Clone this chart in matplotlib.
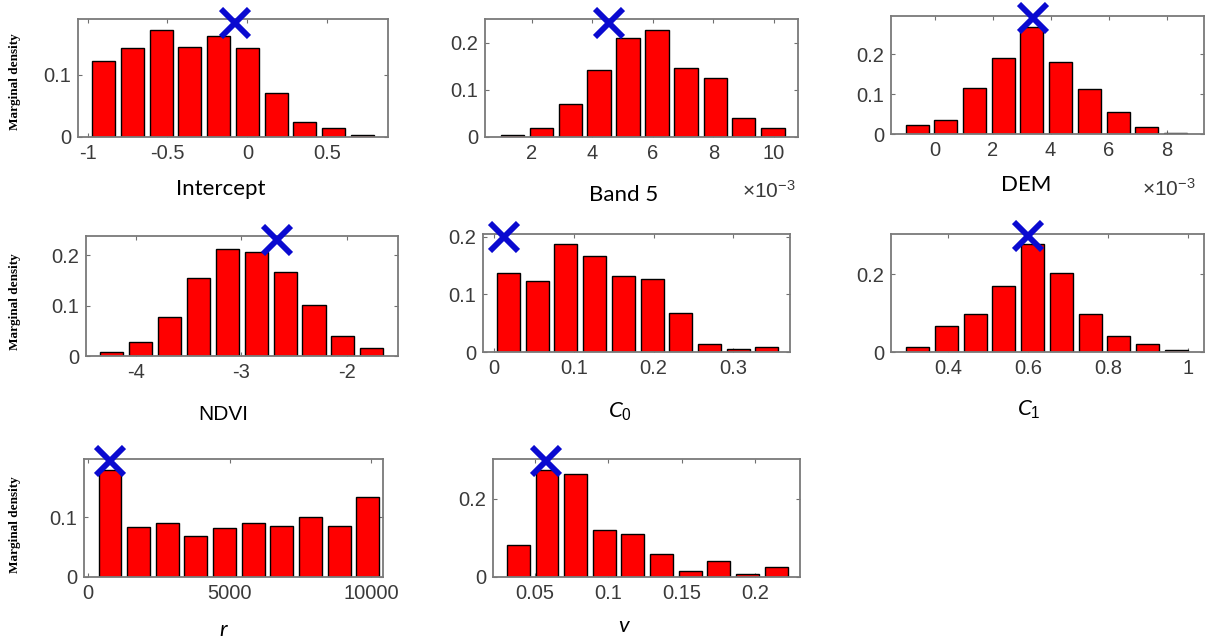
import matplotlib
matplotlib.use("Agg")
import matplotlib.pyplot as plt

plt.rcParams['font.family'] = ['Liberation Sans', 'DejaVu Sans']
plt.rcParams['mathtext.fontset'] = 'custom'
plt.rcParams['mathtext.rm'] = 'Liberation Sans'
plt.rcParams['mathtext.it'] = 'Lato:italic'

# bin centres and marginal densities
intercept_x = [-0.90, -0.72, -0.54, -0.36, -0.18, 0.0, 0.18, 0.36, 0.54, 0.72]
intercept_h = [0.123, 0.143, 0.173, 0.145, 0.162, 0.143, 0.071, 0.024, 0.015, 0.003]

band5_x = [1.35, 2.31, 3.27, 4.22, 5.18, 6.14, 7.10, 8.06, 9.01, 9.97]  # x 1e-3
band5_h = [0.004, 0.019, 0.070, 0.141, 0.210, 0.226, 0.147, 0.126, 0.040, 0.019]

dem_x = [-0.60, 0.39, 1.38, 2.37, 3.36, 4.35, 5.34, 6.33, 7.32, 8.31]  # x 1e-3
dem_h = [0.023, 0.034, 0.114, 0.190, 0.267, 0.181, 0.112, 0.055, 0.017, 0.003]

ndvi_x = [-4.235, -3.96, -3.685, -3.41, -3.135, -2.86, -2.585, -2.31, -2.035, -1.76]
ndvi_h = [0.008, 0.028, 0.077, 0.154, 0.213, 0.207, 0.166, 0.101, 0.040, 0.016]

c0_x = [0.018, 0.054, 0.090, 0.126, 0.162, 0.198, 0.234, 0.270, 0.306, 0.342]
c0_h = [0.137, 0.124, 0.187, 0.167, 0.132, 0.126, 0.068, 0.0145, 0.006, 0.0087]

c1_x = [0.3225, 0.3945, 0.4665, 0.5385, 0.6105, 0.6825, 0.7545, 0.8265, 0.8985, 0.9705]
c1_h = [0.012, 0.067, 0.099, 0.170, 0.278, 0.203, 0.099, 0.042, 0.0216, 0.005]

r_x = [776, 1787, 2798, 3809, 4820, 5831, 6842, 7853, 8864, 9875]
r_h = [0.180, 0.084, 0.090, 0.0685, 0.083, 0.090, 0.085, 0.100, 0.086, 0.135]

v_x = [0.0389, 0.0584, 0.0779, 0.0974, 0.1169, 0.1364, 0.1559, 0.1754, 0.1949, 0.2144]
v_h = [0.083, 0.275, 0.264, 0.120, 0.109, 0.060, 0.0155, 0.040, 0.0086, 0.0258]

# true values (blue crosses)
true_x = [-0.08, 4.54, 3.41, -2.66, 0.0125, 0.60, 765, 0.058]
true_y = [0.184, 0.242, 0.290, 0.230, 0.200, 0.299, 0.194, 0.296]

x_ticks = [[-1, -0.5, 0, 0.5], [2, 4, 6, 8, 10], [0, 2, 4, 6, 8], [-4, -3, -2],
           [0, 0.1, 0.2, 0.3], [0.4, 0.6, 0.8, 1], [0, 5000, 10000],
           [0.05, 0.1, 0.15, 0.2]]
x_tick_labels = [["-1", "-0.5", "0", "0.5"], ["2", "4", "6", "8", "10"],
                 ["0", "2", "4", "6", "8"], ["-4", "-3", "-2"],
                 ["0", "0.1", "0.2", "0.3"], ["0.4", "0.6", "0.8", "1"],
                 ["0", "5000", "10000"], ["0.05", "0.1", "0.15", "0.2"]]
y_ticks = [[0, 0.1], [0, 0.1, 0.2], [0, 0.1, 0.2], [0, 0.1, 0.2],
           [0, 0.1, 0.2], [0, 0.2], [0, 0.1], [0, 0.2]]
y_tick_labels = [["0", "0.1"], ["0", "0.1", "0.2"], ["0", "0.1", "0.2"],
                 ["0", "0.1", "0.2"], ["0", "0.1", "0.2"], ["0", "0.2"],
                 ["0", "0.1"], ["0", "0.2"]]

W, H = 1206, 643


def px_axes(fig, left, top, right, bottom):
    return fig.add_axes([left / W, 1 - bottom / H, (right - left) / W,
                         (bottom - top) / H])


def draw_panel(ax, xs, hs, tx, ty, xlim, ylim, xt, xtl, yt, ytl):
    width = 0.8 * (xs[1] - xs[0])
    ax.bar(xs, hs, width=width, color='#ff0000', edgecolor='black',
           linewidth=1.0, zorder=2)
    ax.plot([tx], [ty], marker='x', color='#0a0ad0', markersize=20,
            markeredgewidth=4.2, linestyle='none', clip_on=False, zorder=5)
    ax.set_xlim(*xlim)
    ax.set_ylim(*ylim)
    ax.set_xticks(xt)
    ax.set_xticklabels(xtl)
    ax.set_yticks(yt)
    ax.set_yticklabels(ytl)
    ax.tick_params(direction='in', length=3, width=0.8, colors='#707070',
                   labelcolor='#3a3a3a', labelsize=14.5, top=True, right=True,
                   pad=5)
    for s in ax.spines.values():
        s.set_color('#7a7a7a')
        s.set_linewidth(1.3)


fig = plt.figure(figsize=(W / 100, H / 100), dpi=100)

boxes = [(78, 19, 388, 137), (485, 19, 798, 137), (891, 16, 1204, 134),
         (86, 236, 398, 356), (483, 234, 790, 352), (891, 234, 1204, 352),
         (84, 459, 383, 577), (493, 459, 800, 577)]
data = [(intercept_x, intercept_h), (band5_x, band5_h), (dem_x, dem_h),
        (ndvi_x, ndvi_h), (c0_x, c0_h), (c1_x, c1_h), (r_x, r_h), (v_x, v_h)]
xlims = [(-1.06, 0.88), (0.45, 10.8), (-1.5, 9.29), (-4.48, -1.51),
         (-0.014, 0.371), (0.256, 1.04), (-141, 10412), (0.0216, 0.2307)]
ylims = [(0, 0.19), (0, 0.25), (0, 0.295), (0, 0.238), (0, 0.205),
         (0, 0.304), (0, 0.198), (0, 0.302)]

for i in range(8):
    ax = px_axes(fig, *boxes[i])
    draw_panel(ax, data[i][0], data[i][1], true_x[i], true_y[i], xlims[i],
               ylims[i], x_ticks[i], x_tick_labels[i], y_ticks[i],
               y_tick_labels[i])


def ftext(x, y, s, **kw):
    fig.text(x / W, 1 - y / H, s, ha='center', va='center', **kw)


# variable names
ftext(221, 189, "Intercept", family='Lato', fontsize=16)
ftext(624, 195, "Band 5", family='Lato', fontsize=16)
ftext(1026, 185, "DEM", family='Lato', fontsize=16)
ftext(223, 415, "NDVI", fontsize=15)
ftext(620, 412, r"$\mathit{C_0}$", fontsize=16)
ftext(1029, 410, r"$\mathit{C_1}$", fontsize=16)
ftext(224, 631, r"$\mathit{r}$", fontsize=16)
ftext(624, 627, r"$\mathit{v}$", fontsize=16)

# exponent notes
ftext(769, 191, "×10$^{-3}$", fontsize=15, color='#3a3a3a')
ftext(1169, 189, "×10$^{-3}$", fontsize=15, color='#3a3a3a')

# y labels
for yc in [82, 302, 525]:
    ftext(15, yc, "Marginal density", family='Liberation Serif',
          fontweight='bold', fontsize=9.5, rotation=90)

fig.savefig("out.png", dpi=100)
